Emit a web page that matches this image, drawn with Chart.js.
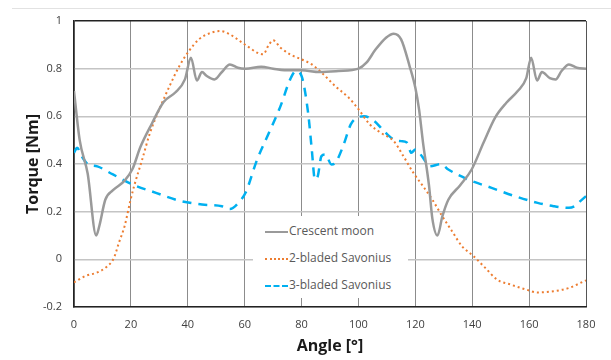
<!DOCTYPE html>
<html>
<head>
<meta charset="utf-8">
<script src="https://cdn.jsdelivr.net/npm/chart.js@4.4.0/dist/chart.umd.min.js"></script>
<style>
  body { margin: 0; background: #fff; }
  #wrap { position: relative; width: 611px; height: 360px; }
  #topline { position: absolute; left: 12px; right: 0; top: 8px; border-top: 1px solid #e2e2e2; }
  #legend {
    position: absolute; left: 253px; top: 216px; width: 155px; height: 82px;
    background: #fff; font-family: "Open Sans", sans-serif; font-size: 12px; color: #595959;
  }
  .row { position: absolute; left: 12px; height: 16px; line-height: 16px; white-space: nowrap; }
  .sym { display: inline-block; width: 23px; vertical-align: middle; margin-right: 1px; }
</style>
</head>
<body>
<div id="wrap">
  <div id="topline"></div>
  <canvas id="torqueChart" width="611" height="360"></canvas>
  <div id="legend"></div>
</div>
<script>
// angle [deg] / torque [Nm]
const moonAngle = [0, 2, 4.8, 7.8, 8.9, 11, 13.7, 17.8, 20.6, 23.3, 27.4, 31.5, 35.6, 39, 41.1, 43.2, 45, 46.6, 49.4, 52, 54.8, 57.6, 60.3, 65.8, 70, 74, 80, 86.4, 93, 100, 102.8, 106, 109.7, 112.4, 115, 118, 120, 121.3, 122.7, 124.8, 126, 127.8, 129.5, 131.6, 135.7, 139.8, 144, 148, 152, 156, 159, 160.7, 162.8, 164.5, 167.3, 169.3, 171.4, 174, 176.8, 180];
const moonTorque = [0.706, 0.50, 0.36, 0.10, 0.14, 0.25, 0.29, 0.33, 0.38, 0.47, 0.57, 0.66, 0.70, 0.755, 0.846, 0.75, 0.786, 0.77, 0.755, 0.786, 0.818, 0.804, 0.80, 0.808, 0.80, 0.793, 0.793, 0.786, 0.79, 0.80, 0.825, 0.88, 0.93, 0.947, 0.923, 0.81, 0.72, 0.63, 0.49, 0.31, 0.17, 0.10, 0.18, 0.25, 0.31, 0.377, 0.49, 0.594, 0.657, 0.706, 0.76, 0.846, 0.75, 0.786, 0.76, 0.755, 0.79, 0.818, 0.804, 0.80];

const sav2Angle = [0, 4, 8.2, 11.6, 14, 15.8, 17.8, 19.9, 21.2, 24, 26.7, 30, 33.6, 37, 40.4, 43.9, 48, 51.4, 54.8, 58.3, 61.7, 64.4, 66.5, 68.5, 70, 72.6, 76, 80, 83.6, 87.7, 91.8, 96.6, 100, 104, 108, 112.4, 115.8, 119.3, 122.7, 126, 129.5, 132.9, 136.4, 140.5, 144.6, 148.7, 153.5, 159, 163, 168.5, 174, 180];
const sav2Torque = [-0.097, -0.07, -0.055, -0.03, 0.005, 0.07, 0.14, 0.25, 0.31, 0.42, 0.53, 0.63, 0.727, 0.81, 0.874, 0.923, 0.95, 0.958, 0.944, 0.916, 0.888, 0.867, 0.86, 0.90, 0.919, 0.888, 0.86, 0.839, 0.818, 0.776, 0.727, 0.678, 0.63, 0.566, 0.53, 0.496, 0.433, 0.363, 0.307, 0.25, 0.18, 0.118, 0.055, 0.013, -0.036, -0.085, -0.106, -0.127, -0.139, -0.134, -0.12, -0.088];

const sav3Angle = [0, 1.1, 2.7, 4.8, 8.2, 13.7, 20.6, 28.8, 37, 45, 52, 54.8, 58.3, 60.3, 64.4, 68.5, 72.6, 76, 78, 80, 82.3, 83.6, 84.7, 85.7, 87, 88.4, 90.5, 91.9, 94.6, 97.3, 99.4, 102, 105.6, 109, 112.4, 115, 117, 118.6, 120, 122.5, 125, 129, 131.6, 138.5, 146.8, 155, 163, 168.6, 174, 176, 178, 180];
const sav3Torque = [0.447, 0.468, 0.433, 0.40, 0.39, 0.356, 0.314, 0.279, 0.246, 0.23, 0.223, 0.211, 0.244, 0.279, 0.419, 0.53, 0.643, 0.755, 0.79, 0.769, 0.615, 0.46, 0.335, 0.349, 0.433, 0.44, 0.398, 0.405, 0.475, 0.566, 0.594, 0.60, 0.58, 0.538, 0.503, 0.496, 0.49, 0.447, 0.461, 0.43, 0.39, 0.40, 0.377, 0.335, 0.30, 0.265, 0.237, 0.223, 0.216, 0.223, 0.244, 0.265];

const seriesNames = ['Crescent moon', '2-bladed Savonius', '3-bladed Savonius'];
const xTicks = [0, 20, 40, 60, 80, 100, 120, 140, 160, 180];
const yTickLabels = ['-0.2', '0', '0.2', '0.4', '0.6', '0.8', '1'];

const pts = (xs, ys) => xs.map((x, i) => ({ x: x, y: ys[i] }));

const tickFont = { family: '"Open Sans", sans-serif', size: 11 };
const titleFont = { family: '"Open Sans", sans-serif', size: 16, weight: 'bold' };

const styles = [
  { color: '#9a9a9a', width: 2.5, dash: [] },
  { color: '#ed7d31', width: 2, dash: [2, 3] },
  { color: '#00b0f0', width: 2.5, dash: [9, 7] }
];

const data = [pts(moonAngle, moonTorque), pts(sav2Angle, sav2Torque), pts(sav3Angle, sav3Torque)];

const ctx = document.getElementById('torqueChart').getContext('2d');
new Chart(ctx, {
  type: 'line',
  data: {
    datasets: data.map((d, i) => ({
      label: seriesNames[i],
      data: d,
      borderColor: styles[i].color,
      borderWidth: styles[i].width,
      borderDash: styles[i].dash,
      pointRadius: 0,
      tension: 0.35,
      cubicInterpolationMode: 'monotone',
      fill: false
    }))
  },
  options: {
    responsive: false,
    animation: false,
    layout: { padding: { left: 20, right: 25, top: 21, bottom: 0 } },
    plugins: { legend: { display: false }, tooltip: { enabled: false } },
    scales: {
      x: {
        type: 'linear',
        min: 0, max: 180,
        afterBuildTicks: s => { s.ticks = xTicks.map(v => ({ value: v })); },
        afterFit: s => { s.height = 53; },
        ticks: { font: tickFont, color: '#404040', padding: 11, maxRotation: 0, autoSkip: false },
        grid: {
          color: c => (c.tick.value === 180 ? '#555' : '#8c8c8c'),
          lineWidth: 1,
          drawTicks: false
        },
        border: { color: '#222', width: 1.5 },
        title: { display: true, text: 'Angle [°]', font: titleFont, color: '#1a1a1a', padding: { top: 0 } }
      },
      y: {
        min: -0.2, max: 1,
        afterBuildTicks: s => { s.ticks = yTickLabels.map(v => ({ value: parseFloat(v) })); },
        afterFit: s => { s.width = 54; },
        ticks: {
          font: tickFont, color: '#404040', padding: 12,
          callback: v => yTickLabels.find(l => Math.abs(parseFloat(l) - v) < 1e-6)
        },
        grid: {
          color: c => (c.tick.value === 1 ? '#222' : '#c4c4c4'),
          lineWidth: 1.5,
          drawTicks: false
        },
        border: { color: '#222', width: 1.5 },
        title: { display: true, text: 'Torque [Nm]', font: titleFont, color: '#1a1a1a', padding: { bottom: 4 } }
      }
    }
  }
});

// legend box sitting inside the plot area
const legend = document.getElementById('legend');
seriesNames.forEach((name, i) => {
  const row = document.createElement('div');
  row.className = 'row';
  row.style.top = (7 + i * 27) + 'px';
  const sym = document.createElement('span');
  sym.className = 'sym';
  const st = i === 0 ? 'solid' : (i === 1 ? 'dotted' : 'dashed');
  sym.style.borderTop = (i === 1 ? 2 : 2.5) + 'px ' + st + ' ' + styles[i].color;
  row.appendChild(sym);
  row.appendChild(document.createTextNode(name));
  legend.appendChild(row);
});
</script>
</body>
</html>
